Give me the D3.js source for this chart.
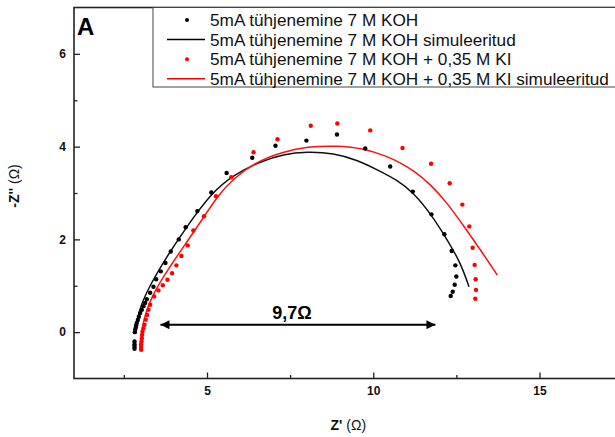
<!DOCTYPE html>
<html><head><meta charset="utf-8">
<script src="https://cdn.jsdelivr.net/npm/d3@7"></script>
<style>
html,body{margin:0;padding:0;background:#fff;overflow:hidden;}
svg{display:block;font-family:"Liberation Sans",Arial,sans-serif;}
</style></head>
<body><svg id="c" width="615" height="437"></svg>
<script>
// ---- data ----
const koh = [[2.82,-0.36],[2.82,-0.31],[2.82,-0.26],[2.82,-0.20],
[2.83,0.00],[2.84,0.05],[2.86,0.10],[2.87,0.15],[2.89,0.20],[2.92,0.26],[2.95,0.33],[2.99,0.41],[3.04,0.48],[3.09,0.56],[3.14,0.63],[3.19,0.71],[3.29,0.85],[3.39,0.98],[3.47,1.14],[3.61,1.31],[3.75,1.49],[3.91,1.74],[4.15,2.00],[4.36,2.26],[4.71,2.61],[5.13,3.01],[5.59,3.43],[6.36,3.76],[7.06,4.02],[7.99,4.13],[8.91,4.26],[9.76,3.96],[10.51,3.57],[11.19,3.03],[11.75,2.54],[12.14,2.11],[12.36,1.75],[12.47,1.44],[12.50,1.20],[12.45,1.02],[12.39,0.87],[12.33,0.78]];
const kohKI = [[3.02,-0.38],[3.02,-0.32],[3.02,-0.26],[3.03,-0.20],[3.04,-0.13],[3.05,-0.06],[3.06,0.01],[3.09,0.08],[3.12,0.16],[3.16,0.27],[3.20,0.37],[3.24,0.48],[3.29,0.59],[3.41,0.77],[3.54,0.90],[3.67,1.01],[3.81,1.13],[3.95,1.27],[4.08,1.44],[4.23,1.64],[4.42,1.87],[4.59,2.19],[4.91,2.50],[5.27,2.93],[5.73,3.34],[6.40,3.88],[7.12,4.16],[8.12,4.45],[8.92,4.50],[9.91,4.35],[10.88,3.97],[11.74,3.63],[12.30,3.21],[12.68,2.75],[12.89,2.28],[12.99,1.82],[13.05,1.45],[13.08,1.14],[13.09,0.91],[13.07,0.72]];
const kohSim = [[2.82,0.00],[2.88,0.20],[2.99,0.55],[3.29,1.02],[3.79,1.63],[4.36,2.24],[5.13,3.00],[5.80,3.39],[6.60,3.68],[7.30,3.84],[8.01,3.89],[8.81,3.86],[9.52,3.71],[10.12,3.50],[10.72,3.28],[11.22,3.00],[11.72,2.56],[12.23,1.99],[12.63,1.49],[12.88,0.98]];
const kohKISim = [[2.99,-0.38],[3.02,-0.02],[3.14,0.41],[3.39,0.84],[3.79,1.31],[4.29,1.84],[4.89,2.46],[5.30,2.92],[5.80,3.32],[6.50,3.68],[7.30,3.89],[8.01,4.00],[8.91,4.02],[9.71,3.96],[10.42,3.79],[10.82,3.65],[11.22,3.48],[11.72,3.19],[12.23,2.78],[12.73,2.28],[13.23,1.77],[13.73,1.23]];
const xMajor = [5,10,15];
const xMinor = [2.5,7.5,12.5,17.5];
const yMajor = [0,2,4,6];
const yMinor = [1,3,5];
const legendLabels = ["5mA tühjenemine 7 M KOH","5mA tühjenemine 7 M KOH simuleeritud","5mA tühjenemine 7 M KOH + 0,35 M KI","5mA tühjenemine 7 M KOH + 0,35 M KI simuleeritud"];
const arrowSpan = [3.6, 11.87];
const arrowY = 0.16;
const arrowLabel = "9,7Ω";

// ---- layout ----
const L=74, T=7.5, R=622.6, B=378.5;
const svg = d3.select("#c");
const x = d3.scaleLinear([1,17.5],[L,R]);
const y = d3.scaleLinear([-1,7],[B,T]);
const ink = "#222";

// frame
svg.append("rect").attr("x",L).attr("y",T).attr("width",R-L).attr("height",B-T)
  .attr("fill","none").attr("stroke",ink).attr("stroke-width",1.6);

// axes
const fmt = d3.format("d");
const gx = svg.append("g").attr("transform",`translate(0,${B})`)
  .call(d3.axisBottom(x).tickValues(xMajor).tickSize(-6).tickPadding(8).tickFormat(fmt));
const gxm = svg.append("g").attr("transform",`translate(0,${B})`)
  .call(d3.axisBottom(x).tickValues(xMinor).tickSize(-3.5).tickFormat(""));
const gy = svg.append("g").attr("transform",`translate(${L},0)`)
  .call(d3.axisLeft(y).tickValues(yMajor).tickSize(-6).tickPadding(8).tickFormat(fmt));
const gym = svg.append("g").attr("transform",`translate(${L},0)`)
  .call(d3.axisLeft(y).tickValues(yMinor).tickSize(-3.5).tickFormat(""));
[gx,gxm,gy,gym].forEach(g=>{
  g.select(".domain").remove();
  g.selectAll("line").attr("stroke",ink).attr("stroke-width",1.3);
  g.selectAll("text").attr("font-family","Liberation Sans, Arial, sans-serif")
   .attr("font-size",12).attr("font-weight","bold").attr("fill","#111");
});

// axis titles
const xt = svg.append("text").attr("x",(L+R)/2).attr("y",430).attr("text-anchor","middle")
  .attr("font-size",14).attr("fill","#111");
xt.append("tspan").attr("font-weight","bold").text("Z'");
xt.append("tspan").text(" (Ω)");
const yt = svg.append("text").attr("transform","translate(19,186) rotate(-90)").attr("text-anchor","middle")
  .attr("font-size",14).attr("fill","#111");
yt.append("tspan").attr("font-weight","bold").text("-Z''");
yt.append("tspan").text(" (Ω)");

// panel letter
svg.append("text").attr("x",77).attr("y",35).attr("font-size",24).attr("font-weight","bold").text("A");

// clip
svg.append("clipPath").attr("id","clip").append("rect").attr("x",L).attr("y",T).attr("width",R-L).attr("height",B-T);
const plot = svg.append("g").attr("clip-path","url(#clip)");

const line = d3.line().x(d=>x(d[0])).y(d=>y(d[1])).curve(d3.curveBasis);
plot.append("path").datum(kohSim).attr("d",line).attr("fill","none").attr("stroke","#111").attr("stroke-width",1.5);
plot.append("path").datum(kohKISim).attr("d",line).attr("fill","none").attr("stroke","#ff1010").attr("stroke-width",1.5);

plot.append("g").selectAll("circle").data(koh).join("circle")
  .attr("cx",d=>x(d[0])).attr("cy",d=>y(d[1])).attr("r",2.2).attr("fill","#000");
plot.append("g").selectAll("circle").data(kohKI).join("circle")
  .attr("cx",d=>x(d[0])).attr("cy",d=>y(d[1])).attr("r",2.2).attr("fill","#ff0000");

// arrow
const defs = svg.append("defs");
defs.append("marker").attr("id","ah").attr("viewBox","0 0 10 10").attr("refX",10).attr("refY",5)
  .attr("markerWidth",10).attr("markerHeight",9).attr("markerUnits","userSpaceOnUse").attr("orient","auto-start-reverse")
  .append("path").attr("d","M0,0L10,5L0,10Z").attr("fill","#000");
svg.append("line").attr("x1",x(arrowSpan[0])).attr("x2",x(arrowSpan[1]))
  .attr("y1",y(arrowY)).attr("y2",y(arrowY)).attr("stroke","#000").attr("stroke-width",2)
  .attr("marker-start","url(#ah)").attr("marker-end","url(#ah)");
svg.append("text").attr("x",x(d3.mean(arrowSpan))-6).attr("y",y(arrowY)-5.5).attr("text-anchor","middle")
  .attr("font-size",18).attr("font-weight","bold").text(arrowLabel);

// legend
const lg = svg.append("g");
lg.append("rect").attr("x",153).attr("y",T).attr("width",480).attr("height",87-T)
  .attr("fill","#fff").attr("stroke","#444").attr("stroke-width",1);
const rowY = i => 20 + i*19.6;
legendLabels.forEach((t,i)=>{
  const cy = rowY(i);
  const col = i<2 ? "#000" : "#ff0000";
  if(i%2===0) lg.append("circle").attr("cx",187).attr("cy",cy).attr("r",2).attr("fill",col);
  else lg.append("line").attr("x1",167).attr("x2",205).attr("y1",cy).attr("y2",cy).attr("stroke",col).attr("stroke-width",1.5);
  lg.append("text").attr("x",210).attr("y",cy+6).attr("font-size",17.2).attr("fill","#111").text(t);
});
</script></body></html>
